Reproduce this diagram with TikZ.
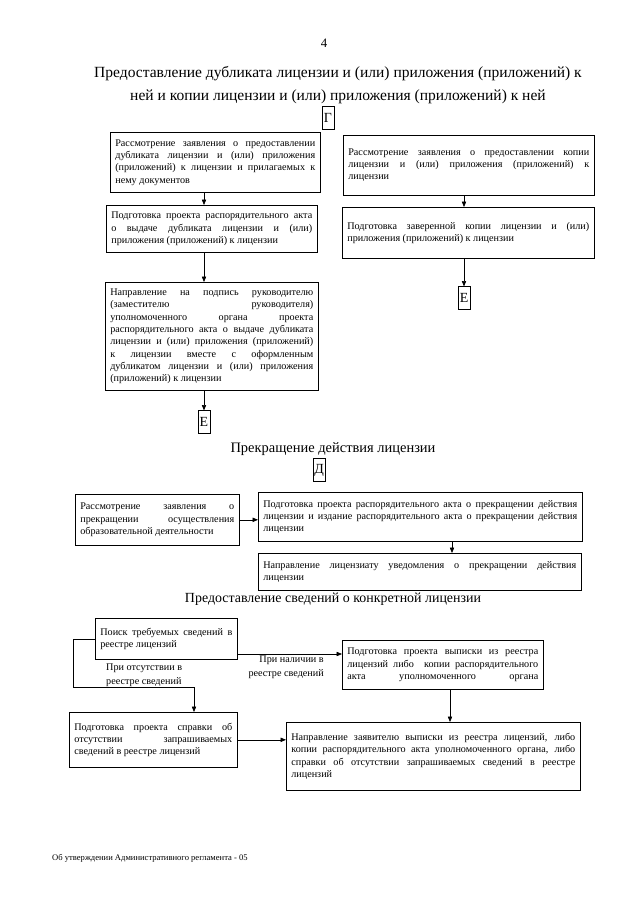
\documentclass[tikz,border=0pt]{standalone}
\usepackage{fontspec}
\setmainfont{Liberation Serif}
\usetikzlibrary{arrows.meta}

\begin{document}
\begin{tikzpicture}[x=0.328125mm, y=-0.328125mm,
    blk/.style 2 args={draw, line width=0.6pt, anchor=north west, align=justify,
      font=\fontsize{9.5}{11.5}\selectfont, inner xsep=1.64mm, inner ysep=1pt,
      text width={(#1-10)*0.328125mm}, minimum height={#2*0.328125mm}},
    letter/.style={draw, line width=0.6pt, font=\fontsize{13}{13}\selectfont,
      inner sep=0pt, minimum width=3.9mm, minimum height=7.4mm},
    head/.style={font=\fontsize{14.5}{22}\selectfont, align=center},
    lbl/.style={font=\fontsize{9.5}{12.5}\selectfont, inner sep=0pt},
    arr/.style={-{Triangle[length=5pt,width=4pt]}, line width=0.6pt}]
  \useasboundingbox (0,0) rectangle (640,905);

  % headings
  \node[font=\fontsize{12}{12}\selectfont] (pg) at (324,43) {4};
  \node[head] (t1) at (338,85) {Предоставление дубликата лицензии и (или) приложения (приложений) к\\
    ней и копии лицензии и (или) приложения (приложений) к ней};
  \node[head, font=\fontsize{13.5}{14}\selectfont] (t2) at (333,449) {Прекращение действия лицензии};
  \node[head, font=\fontsize{13}{14}\selectfont] (t3) at (333,599) {Предоставление сведений о конкретной лицензии};

  % letter marks
  \foreach \n/\x/\y/\t in {g/328/118/Г, e1/204/422/Е, e2/464/298/Е, d/319/470/Д}
    \node[letter] (\n) at (\x,\y) {\t};

  % duplicate / copy
  \node[blk={210}{60}] (l1) at (110,132) {Рассмотрение заявления о предоставлении\linebreak
    дубликата лицензии и (или) приложения\linebreak
    (приложений) к лицензии и прилагаемых к\linebreak нему документов};
  \node[blk={211}{47}] (l2) at (106,205) {Подготовка проекта распорядительного акта\linebreak
    о выдаче дубликата лицензии и (или)\linebreak приложения (приложений) к лицензии};
  \node[blk={213}{108}] (l3) at (105,282) {Направление на подпись руководителю\linebreak
    (заместителю руководителя)\linebreak
    уполномоченного органа проекта\linebreak
    распорядительного акта о выдаче дубликата\linebreak
    лицензии и (или) приложения (приложений)\linebreak
    к лицензии вместе с оформленным\linebreak
    дубликатом лицензии и (или) приложения\linebreak
    (приложений) к лицензии};
  \node[blk={251}{60}] (r1) at (343,135) {Рассмотрение заявления о предоставлении копии\linebreak
    лицензии и (или) приложения (приложений) к\linebreak лицензии};
  \node[blk={252}{51}] (r2) at (342,207) {Подготовка заверенной копии лицензии и (или)\linebreak
    приложения (приложений) к лицензии};

  \draw[arr] (l1.south -| e1) -- (l2.north -| e1);
  \draw[arr] (l2.south -| e1) -- (l3.north -| e1);
  \draw[arr] (l3.south -| e1) -- (e1.north);
  \draw[arr] (r1.south -| e2) -- (r2.north -| e2);
  \draw[arr] (r2.south -| e2) -- (e2.north);

  % termination
  \node[blk={164}{51}] (m1) at (75,494) {Рассмотрение заявления о\linebreak
    прекращении осуществления\linebreak образовательной деятельности};
  \node[blk={324}{49}] (m2) at (258,492) {Подготовка проекта распорядительного акта о прекращении действия\linebreak
    лицензии и издание распорядительного акта о прекращении действия\linebreak лицензии};
  \node[blk={323}{37}] (m3) at (258,553) {Направление лицензиату уведомления о прекращении действия\linebreak
    лицензии};
  \coordinate (xm) at (452,0);

  \draw[arr] (m1.east) -- (m2.west |- m1.east);
  \draw[arr] (m2.south -| xm) -- (m3.north -| xm);

  % register data
  \node[blk={142}{41}] (b1) at (95,618) {Поиск требуемых сведений в\linebreak реестре лицензий};
  \node[blk={201}{49}] (b2) at (342,640) {Подготовка проекта выписки из реестра\linebreak
    лицензий либо~ копии распорядительного\linebreak акта\hfill уполномоченного\hfill органа};
  \node[blk={168}{55}] (b3) at (69,712) {Подготовка проекта справки об\linebreak
    отсутствии запрашиваемых\linebreak сведений в реестре лицензий};
  \node[blk={294}{68}] (b4) at (286,722) {Направление заявителю выписки из реестра лицензий, либо\linebreak
    копии распорядительного акта уполномоченного органа, либо\linebreak
    справки об отсутствии запрашиваемых сведений в реестре\linebreak лицензий};
  \coordinate (yb) at (0,654);
  \coordinate (k1) at (73,687);
  \coordinate (k2) at (194,0);
  \coordinate (k3) at (450,0);

  \draw[arr] (b1.east |- yb) -- (b2.west |- yb);
  \draw[arr] (b1.west) -| (k1) -| (b3.north -| k2);
  \draw[arr] (b2.south -| k3) -- (b4.north -| k3);
  \draw[arr] (b3.east) -- (b4.west |- b3.east);

  \node[lbl, anchor=north east, align=right] (yes) at (324,656) {При наличии в\\реестре сведений};
  \node[lbl, anchor=north west, align=left] (no) at (106,664) {При отсутствии в\\реестре сведений};

  % footer
  \node[font=\fontsize{8}{8}\selectfont, anchor=west, inner sep=0pt] (ft) at (52,858) {Об утверждении Административного регламента - 05};
\end{tikzpicture}
\end{document}
